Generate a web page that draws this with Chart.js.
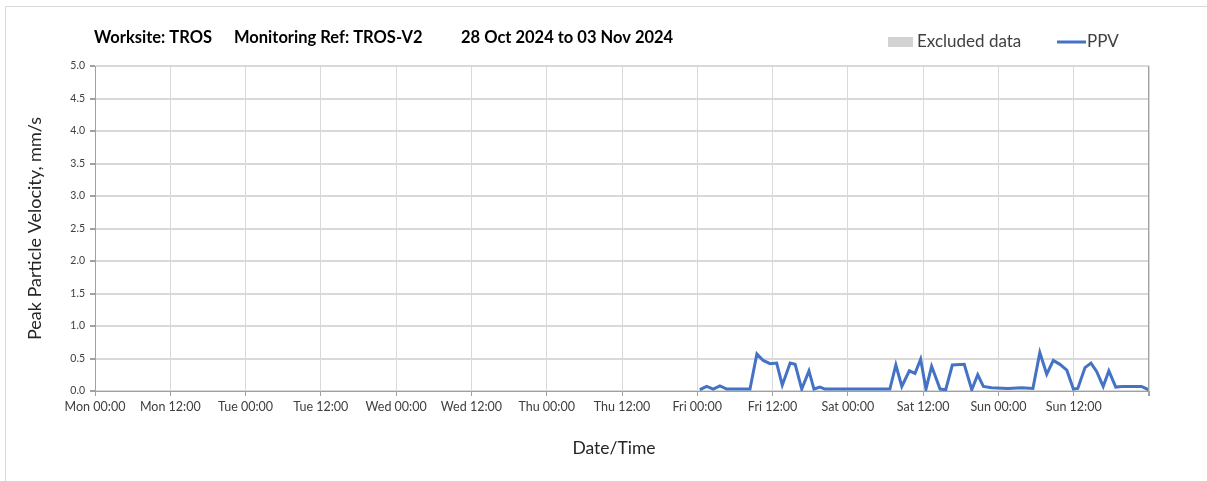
<!DOCTYPE html>
<html>
<head>
<meta charset="utf-8">
<title>TROS-V2 PPV</title>
<script src="https://cdn.jsdelivr.net/npm/chart.js@4.4.1/dist/chart.umd.min.js"></script>
<style>
  html, body { margin: 0; padding: 0; background: #ffffff; }
  #wrap { position: relative; width: 1207px; height: 481px; }
</style>
</head>
<body>
<div id="wrap"><canvas id="c" width="1207" height="481"></canvas></div>
<script>
// Hours since Mon 28 Oct 2024 00:00 for each PPV reading
const ppvHours = [
  96.4, 97.5, 98.55, 99.6, 100.7, 104.4, 105.5, 106.5, 107.6, 108.65,
  109.55, 110.8, 111.6, 112.65, 113.8, 114.6, 115.55, 116.35, 126.7, 127.65,
  128.6, 129.8, 130.7, 131.6, 132.45, 133.35, 134.7, 135.6, 136.65, 138.55,
  139.75, 140.7, 141.6, 142.9, 145.5, 147.7, 149.5, 150.6, 151.7, 152.75,
  153.8, 154.9, 155.95, 156.65, 157.8, 158.75, 159.65, 160.7, 161.6, 162.7,
  163.65, 166.8, 167.9
];
// Peak particle velocity, mm/s
const ppvValues = [
  0.02, 0.07, 0.03, 0.08, 0.03, 0.03, 0.57, 0.47, 0.42, 0.43,
  0.09, 0.43, 0.41, 0.03, 0.31, 0.03, 0.06, 0.03, 0.03, 0.40,
  0.07, 0.31, 0.27, 0.49, 0.03, 0.38, 0.03, 0.02, 0.40, 0.41,
  0.02, 0.25, 0.07, 0.05, 0.04, 0.05, 0.04, 0.59, 0.26, 0.47,
  0.41, 0.32, 0.03, 0.04, 0.36, 0.43, 0.30, 0.07, 0.31, 0.06,
  0.07, 0.07, 0.02
];
// Excluded periods (none in this week)
const excludedData = [];
// x-axis labels, one per 12 hours
const xTickLabels = [
  'Mon 00:00', 'Mon 12:00', 'Tue 00:00', 'Tue 12:00', 'Wed 00:00', 'Wed 12:00',
  'Thu 00:00', 'Thu 12:00', 'Fri 00:00', 'Fri 12:00', 'Sat 00:00', 'Sat 12:00',
  'Sun 00:00', 'Sun 12:00', ''
];
const titleParts = ['Worksite: TROS', 'Monitoring Ref: TROS-V2', '28 Oct 2024 to 03 Nov 2024'];
const xAxisTitle = 'Date/Time';

const FONT = "'Lato', 'Open Sans', sans-serif";

// Frame, header, legend, x-axis title and right border of the plot
const decor = {
  id: 'decor',
  afterDraw(chart) {
    const ctx = chart.ctx;
    const a = chart.chartArea;
    ctx.save();
    // outer frame
    ctx.strokeStyle = '#d9d9d9';
    ctx.lineWidth = 1;
    ctx.beginPath();
    ctx.moveTo(5.5, 481);
    ctx.lineTo(5.5, 6.5);
    ctx.lineTo(1207, 6.5);
    ctx.stroke();
    // right border of plot
    ctx.strokeStyle = '#a0a0a0';
    ctx.beginPath();
    ctx.moveTo(Math.round(a.right) - 0.5, a.top);
    ctx.lineTo(Math.round(a.right) - 0.5, a.bottom + 5);
    ctx.stroke();
    // header
    ctx.fillStyle = '#000000';
    ctx.font = 'bold 16.5px ' + FONT;
    ctx.textBaseline = 'middle';
    ctx.textAlign = 'left';
    const xs = [94, 234, 461];
    titleParts.forEach((t, i) => ctx.fillText(t, xs[i], 38));
    // legend
    ctx.fillStyle = '#d3d3d3';
    ctx.fillRect(888, 37, 25, 10);
    ctx.fillStyle = '#404040';
    ctx.font = '17px ' + FONT;
    ctx.fillText(chart.data.datasets[1].label, 917, 42);
    ctx.strokeStyle = chart.data.datasets[0].borderColor;
    ctx.lineWidth = 3;
    ctx.beginPath();
    ctx.moveTo(1057, 42);
    ctx.lineTo(1086, 42);
    ctx.stroke();
    ctx.fillText(chart.data.datasets[0].label, 1087, 42);
    // x-axis title
    ctx.fillStyle = '#262626';
    ctx.font = '17.5px ' + FONT;
    ctx.textAlign = 'center';
    ctx.fillText(xAxisTitle, 614, 448);
    ctx.restore();
  }
};

new Chart(document.getElementById('c'), {
  type: 'line',
  data: {
    datasets: [
      {
        label: 'PPV',
        data: ppvHours.map((h, i) => ({ x: h, y: ppvValues[i] })),
        borderColor: '#4472c4',
        borderWidth: 3,
        pointRadius: 0,
        tension: 0,
        fill: false
      },
      {
        label: 'Excluded data',
        type: 'bar',
        data: excludedData,
        backgroundColor: '#d3d3d3'
      }
    ]
  },
  options: {
    responsive: false,
    animation: false,
    events: [],
    layout: { padding: { left: 0, right: 58, top: 66, bottom: 0 } },
    plugins: {
      legend: { display: false },
      title: { display: false },
      tooltip: { enabled: false }
    },
    scales: {
      x: {
        type: 'linear',
        min: 0,
        max: 168,
        offset: false,
        afterFit(s) { s.height = 90; },
        afterBuildTicks(s) {
          s.ticks = xTickLabels.map((_, i) => ({ value: i * 12 }));
        },
        ticks: {
          autoSkip: false,
          maxRotation: 0,
          padding: 3,
          color: '#404040',
          font: { family: FONT, size: 12.5 },
          callback(v) { return xTickLabels[Math.round(v / 12)]; }
        },
        grid: { offset: false, color: '#d9d9d9', lineWidth: 1, tickLength: 5, tickColor: '#a0a0a0' },
        border: { color: '#a0a0a0', width: 1 }
      },
      y: {
        min: 0,
        max: 5,
        afterFit(s) { s.width = 95; },
        ticks: {
          stepSize: 0.5,
          padding: 5,
          color: '#404040',
          font: { family: FONT, size: 10.5 },
          callback(v) { return v.toFixed(1); }
        },
        grid: { color: '#d9d9d9', lineWidth: 2, tickLength: 5, tickColor: '#a0a0a0' },
        border: { color: '#a0a0a0', width: 1 },
        title: {
          display: true,
          text: 'Peak Particle Velocity, mm/s',
          color: '#262626',
          font: { family: FONT, size: 18 },
          padding: { top: 24, bottom: 0 }
        }
      }
    }
  },
  plugins: [decor]
});
</script>
</body>
</html>
